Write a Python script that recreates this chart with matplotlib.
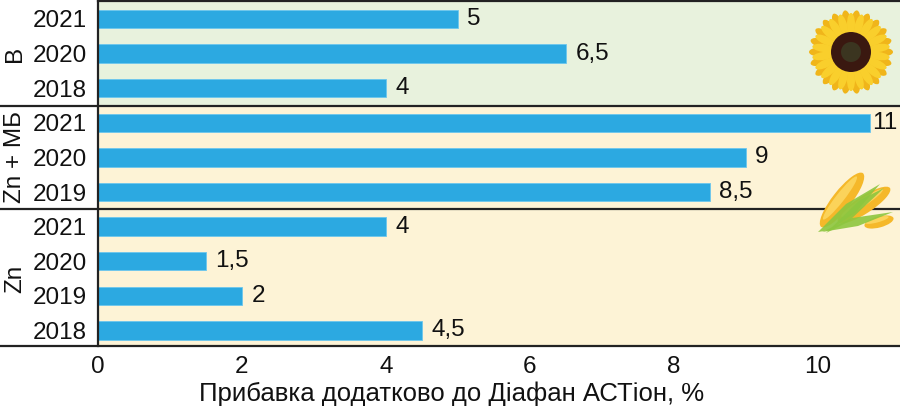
import numpy as np
import matplotlib
matplotlib.use('Agg')
import matplotlib.pyplot as plt
from matplotlib.patches import Ellipse, Circle, Polygon

plt.rcParams['font.family'] = ['Liberation Sans', 'DejaVu Sans']

# data
groups = ["B", "Zn + МБ", "Zn"]
group_sizes = [3, 3, 4]
years = ["2021", "2020", "2018",
         "2021", "2020", "2019",
         "2021", "2020", "2019", "2018"]
gain = [5, 6.5, 4,
        11, 9, 8.5,
        4, 1.5, 2, 4.5]
xticks = [0, 2, 4, 6, 8, 10]
xlabel = "Прибавка додатково до Діафан АСТіон, %"

bar_color = "#2ca9e1"
green_bg = "#e8f2dd"
yellow_bg = "#fdf3d6"
line_col = "#222222"
fs = 17.5

fig = plt.figure(figsize=(9, 4.11), dpi=100)
ax = fig.add_axes([98 / 900, 1 - 346 / 411, 802 / 900, 345 / 411])

xmax = 802 / 72
ypos = np.arange(len(gain))
ax.set_xlim(0, xmax)
ax.set_ylim(len(gain) - 0.55, -0.52)

# background bands per group
starts = np.cumsum([0] + group_sizes[:-1])
bands = [green_bg, yellow_bg, yellow_bg]
for s, n, c in zip(starts, group_sizes, bands):
    ax.axhspan(s - 0.5 if s else -1, s + n - 0.5 if s + n < len(gain) else len(gain) + 1,
               color=c, zorder=0, lw=0)

# the longest bar is cut short in the source so its label still fits
cap = 10.72
bar_len = np.minimum(gain, cap)
ax.barh(ypos, bar_len, height=0.53, color=bar_color, edgecolor="#6cc6ee",
        linewidth=0.6, zorder=2)

for y, v, L in zip(ypos, gain, bar_len):
    off = 0.03 if v > cap else 0.13
    ax.text(L + off, y, f"{v:g}".replace(".", ","), va="center", ha="left",
            fontsize=fs, color="#111111", zorder=3)

# group separators and bottom line run across the whole width
for s in starts[1:]:
    ax.plot([-98 / 802, 1], [s - 0.5, s - 0.5], transform=ax.get_yaxis_transform(),
            color=line_col, lw=1.6, clip_on=False, zorder=4)
ax.plot([-98 / 802, 1], [0, 0], transform=ax.transAxes, color=line_col,
        lw=1.6, clip_on=False, zorder=4)

for s, n, g in zip(starts, group_sizes, groups):
    ax.text(-83 / 802, s + (n - 1) / 2, g, rotation=90, ha="center", va="center",
            transform=ax.get_yaxis_transform(), fontsize=fs, color="#111111")

ax.set_yticks(ypos)
ax.set_yticklabels(years, fontsize=fs, color="#111111")
ax.set_xticks(xticks)
ax.set_xticklabels([str(t) for t in xticks], fontsize=fs, color="#111111")
ax.tick_params(axis="y", length=0, pad=8)
ax.tick_params(axis="x", length=0, pad=7)

for side in ["right", "bottom"]:
    ax.spines[side].set_visible(False)
ax.spines["left"].set_color(line_col)
ax.spines["left"].set_linewidth(1.6)
ax.spines["top"].set_color(line_col)
ax.spines["top"].set_linewidth(1.6)

fig.text(452 / 900, 1 - 394 / 411, xlabel, ha="center", va="center",
         fontsize=18.5, color="#111111")

# decorations: sunflower and corn, drawn in pixel coordinates
deco = fig.add_axes([0, 0, 1, 1], zorder=5)
deco.set_xlim(0, 900)
deco.set_ylim(411, 0)
deco.axis("off")
deco.patch.set_alpha(0)

cx, cy = 851, 52
for k, (r, col, w) in enumerate([(31, "#f0b51a", 9), (28, "#f9cf2c", 8)]):
    n = 22
    for i in range(n):
        a = 2 * np.pi * (i + 0.5 * k) / n
        deco.add_patch(Ellipse((cx + r * np.cos(a), cy + r * np.sin(a)), 22, w,
                               angle=np.degrees(a), color=col, lw=0))
deco.add_patch(Circle((cx, cy), 20, color="#3a1810", lw=0))
deco.add_patch(Circle((cx, cy), 10, color="#3b3520", lw=0))

cobs = [((842, 200), 68, 19, -52), ((864, 205), 62, 17, -33), ((879, 222), 30, 11, -15)]
for (x0, y0), L, W, ang in cobs:
    deco.add_patch(Ellipse((x0, y0), L, W, angle=ang, color="#f5b82a", lw=0))
    deco.add_patch(Ellipse((x0 - 2, y0 - 2), L * 0.8, W * 0.45, angle=ang,
                           color="#fbd35a", lw=0))
leaves = [[(818, 232), (846, 204), (880, 184), (856, 212), (830, 230)],
          [(822, 232), (852, 218), (893, 212), (858, 226)],
          [(826, 233), (860, 200), (884, 188), (848, 222)]]
for pts in leaves:
    deco.add_patch(Polygon(pts, closed=True, color="#8dc63f", alpha=0.9, lw=0))

fig.savefig("out.png", dpi=100)
